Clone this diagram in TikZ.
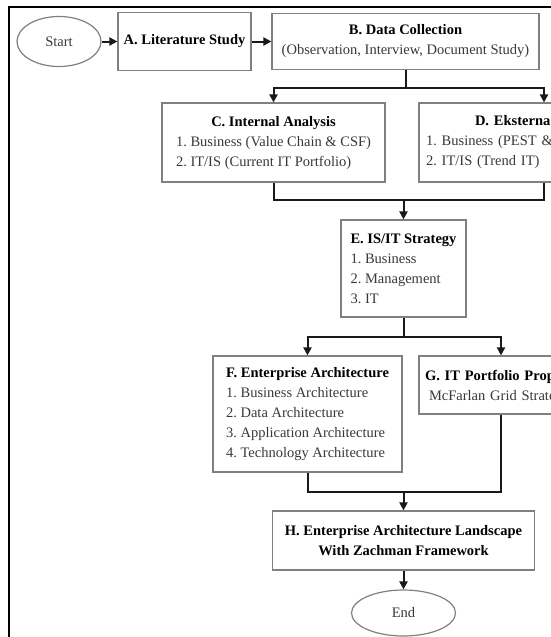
\documentclass[tikz,border=0pt]{standalone}
\usepackage{fontspec}
\setmainfont{Liberation Serif}
\usetikzlibrary{shapes.geometric,arrows.meta}
\setlength{\parindent}{0pt}
\frenchspacing
\newcommand{\steptitle}[1]{{\color{black}\bfseries #1}}
\begin{document}
\begin{tikzpicture}[x=1pt,y=-1pt,
  every node/.style={font=\fontsize{14.5}{20}\selectfont,text=black!78},
  box/.style={draw=black!50,line width=1.2pt,inner sep=0pt},
  oval/.style={ellipse,draw=black!50,line width=1.2pt,inner sep=0pt},
  flow/.style={line width=2pt,black!90},
  arr/.style={flow,-{Triangle[length=8pt,width=8pt]}}]
\useasboundingbox (0,0) rectangle (551,637);
\clip (0,0) rectangle (551,637);
\draw [line width=2.5pt] (9,7) rectangle (580,680);
% top row
\node [oval,minimum width=84pt,minimum height=50pt] (start) at (59,41.5) {Start};
\node [box,minimum width=133pt,minimum height=58pt] (litstudy) at (184.5,41.5) {\steptitle{A. Literature Study}};
\node [box,minimum width=267pt,minimum height=56pt,align=center] (datacoll) at (405.5,41.5) {\steptitle{B. Data Collection}\\(Observation, Interview, Document Study)};
% analysis
\node [box,minimum width=223pt,minimum height=79pt] (intern) at (273.5,142.5) {\begin{tabular}{@{}l@{}}\multicolumn{1}{@{}c@{}}{\steptitle{C. Internal Analysis}}\\1. Business (Value Chain \& CSF)\\2. IT/IS (Current IT Portfolio)\end{tabular}};
\node [box,text width=236pt,inner xsep=7pt,minimum height=79pt,align=left] (extern) at (544,142.5) {\hspace*{49pt}\steptitle{D. Eksterna}\\1. Business (PEST \&\\2. IT/IS (Trend IT)};
\node [box,minimum width=125pt,minimum height=97pt,align=left] (strategy) at (403.5,268.5) {\steptitle{E. IS/IT Strategy}\\1. Business\\2. Management\\3. IT};
% architecture
\node [box,minimum width=189pt,minimum height=116pt,align=left] (entarch) at (307.5,414) {\steptitle{F. Enterprise Architecture}\\1. Business Architecture\\2. Data Architecture\\3. Application Architecture\\4. Technology Architecture};
\node [box,text width=152pt,inner xsep=6pt,minimum height=58pt,align=left] (portfolio) at (501,385) {\steptitle{G. IT Portfolio Prop}\\\hspace*{4pt}McFarlan Grid Strate};
\node [box,minimum width=262pt,minimum height=59pt,align=center] (landscape) at (403.5,540.5) {\steptitle{H. Enterprise Architecture Landscape}\\\steptitle{With Zachman Framework}};
\node [oval,minimum width=104pt,minimum height=46pt] (end) at (403.5,613) {End};
% connectors
\draw [arr] (start) -- (litstudy);
\draw [arr] (litstudy) -- (datacoll);
\draw [flow] (datacoll.south) -- ++(0,18) coordinate (split1);
\draw [arr] (split1) -| (intern.north);
\draw [arr] (split1) -| (extern.north);
\coordinate (merge1) at (403.5,200);
\draw [flow] (intern.south) |- (merge1) -| (extern.south);
\draw [arr] (merge1) -- (strategy.north);
\draw [flow] (strategy.south) -- ++(0,19) coordinate (split2);
\draw [arr] (split2) -| (entarch.north);
\draw [arr] (split2) -| (portfolio.north);
\coordinate (merge2) at (403.5,492);
\draw [flow] (entarch.south) |- (merge2) -| (portfolio.south);
\draw [arr] (merge2) -- (landscape.north);
\draw [arr] (landscape) -- (end);
\end{tikzpicture}
\end{document}
